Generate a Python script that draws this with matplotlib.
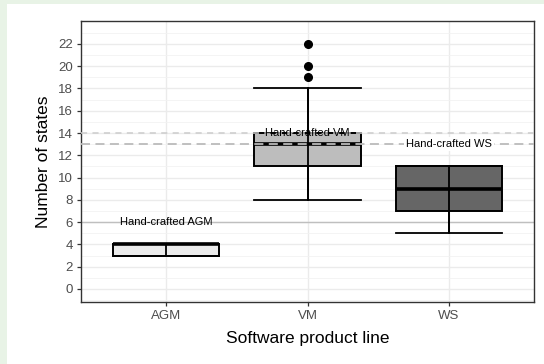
import matplotlib.pyplot as plt
from matplotlib.patches import Rectangle

plt.rcParams['font.family'] = ['Liberation Sans', 'DejaVu Sans']

# number of states per software product line
lines = ['AGM', 'VM', 'WS']
whisker_lo = [3, 8, 5]
q1 = [3, 11, 7]
median = [4, 13, 9]
q3 = [4, 14, 11]
whisker_hi = [4, 18, 11]
outliers = [[], [19, 20, 22], []]
fills = ['#ebebeb', '#bdbdbd', '#666666']

# states of the hand-crafted models
hand_names = ['Hand-crafted AGM', 'Hand-crafted VM', 'Hand-crafted WS']
hand_states = [6, 14, 13]

fig = plt.figure(figsize=(5.44, 3.64), dpi=100, facecolor='white')
# thin green frame on the left and top
green = '#e8f3e6'
fig.patches.append(Rectangle((0, 0), 7 / 544, 1, transform=fig.transFigure,
                             facecolor=green, edgecolor='none'))
fig.patches.append(Rectangle((0, 1 - 4 / 364), 1, 4 / 364, transform=fig.transFigure,
                             facecolor=green, edgecolor='none'))
ax = fig.add_axes([81 / 544, 62 / 364, 453 / 544, 281 / 364])

pos = list(range(1, len(lines) + 1))
stats = []
for i in range(len(lines)):
    stats.append(dict(med=median[i], q1=q1[i], q3=q3[i], whislo=whisker_lo[i],
                      whishi=whisker_hi[i], fliers=outliers[i]))

bp = ax.bxp(stats, positions=pos, widths=0.75, capwidths=0.75, patch_artist=True,
            boxprops=dict(edgecolor='black', linewidth=1.4),
            medianprops=dict(color='black', linewidth=2.6),
            whiskerprops=dict(color='black', linewidth=1.3),
            capprops=dict(color='black', linewidth=1.3),
            flierprops=dict(marker='o', markerfacecolor='black', markeredgecolor='black',
                            markersize=5.5))
for patch, c in zip(bp['boxes'], fills):
    patch.set_facecolor(c)
    patch.set_zorder(2)

# error bar style vertical line through each box
ax.vlines(pos, whisker_lo, whisker_hi, colors='black', linewidth=1.3, zorder=3)

# hand-crafted reference lines
ax.axhline(hand_states[0], color='#bfbfbf', linewidth=1.0, zorder=1.5)
ax.axhline(hand_states[1], color='#cccccc', linewidth=1.1, linestyle=(0, (4, 3.5)), zorder=4)
ax.axhline(hand_states[2], color='#bbbbbb', linewidth=1.3, linestyle=(0, (5, 3)), zorder=4)

ax.text(pos[0], hand_states[0], hand_names[0], ha='center', va='center', fontsize=8, zorder=5)
ax.text(pos[1], hand_states[1], hand_names[1], ha='center', va='center', fontsize=8, zorder=5)
ax.text(pos[2], hand_states[2], hand_names[2], ha='center', va='center', fontsize=8, zorder=5,
        bbox=dict(facecolor='white', edgecolor='none', pad=1.5))

ax.set_xlim(0.4, 3.6)
ax.set_ylim(-1.17, 24.06)
ax.set_xticks(pos)
ax.set_xticklabels(lines)
ax.set_yticks(range(0, 23, 2))
ax.set_yticks(range(-1, 24, 2), minor=True)

ax.set_axisbelow(True)
ax.grid(which='major', color='#ebebeb', linewidth=1.0)
ax.grid(which='minor', axis='y', color='#f2f2f2', linewidth=0.6)
ax.tick_params(which='major', length=3, color='#333333', labelcolor='#4d4d4d',
               labelsize=9.5, width=0.9, pad=3)
ax.tick_params(which='minor', length=0)
for s in ax.spines.values():
    s.set_color('#333333')
    s.set_linewidth(1.0)

ax.set_xlabel('Software product line', fontsize=12.5, labelpad=6)
ax.set_ylabel('Number of states', fontsize=12.5, labelpad=5)

fig.savefig('out.png', dpi=100, facecolor=fig.get_facecolor())
